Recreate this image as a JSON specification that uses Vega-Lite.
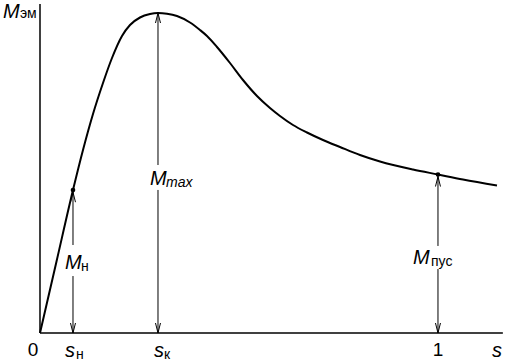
{
  "$schema": "https://vega.github.io/schema/vega-lite/v6.json",
  "width": 506,
  "height": 363,
  "padding": 0,
  "autosize": {"type": "none"},
  "background": "white",
  "config": {"view": {"stroke": null}},
  "datasets": {
    "curve": [
      {"s": 0, "M": 0},
      {"s": 0.04146, "M": 0.22344},
      {"s": 0.08291, "M": 0.44688},
      {"s": 0.10804, "M": 0.57188},
      {"s": 0.13317, "M": 0.68438},
      {"s": 0.15829, "M": 0.78125},
      {"s": 0.1809, "M": 0.85938},
      {"s": 0.20603, "M": 0.92813},
      {"s": 0.22613, "M": 0.9625},
      {"s": 0.25126, "M": 0.98594},
      {"s": 0.27638, "M": 0.99688},
      {"s": 0.29648, "M": 1.0},
      {"s": 0.3191, "M": 0.99781},
      {"s": 0.34422, "M": 0.99063},
      {"s": 0.37688, "M": 0.97031},
      {"s": 0.40201, "M": 0.94688},
      {"s": 0.4196, "M": 0.92813},
      {"s": 0.44472, "M": 0.89375},
      {"s": 0.47739, "M": 0.84375},
      {"s": 0.51005, "M": 0.79063},
      {"s": 0.54523, "M": 0.74063},
      {"s": 0.57789, "M": 0.70313},
      {"s": 0.60302, "M": 0.67813},
      {"s": 0.63568, "M": 0.65},
      {"s": 0.67085, "M": 0.62656},
      {"s": 0.71106, "M": 0.60313},
      {"s": 0.75377, "M": 0.58125},
      {"s": 0.80402, "M": 0.55625},
      {"s": 0.85427, "M": 0.53594},
      {"s": 0.93719, "M": 0.51094},
      {"s": 1.0, "M": 0.49531},
      {"s": 1.06281, "M": 0.47969},
      {"s": 1.14824, "M": 0.46094}
    ],
    "segments": [
      {"s": 0.08291, "M1": 0.44688, "M2": 0.275},
      {"s": 0.08291, "M1": 0.178, "M2": 0},
      {"s": 0.29648, "M1": 1.0, "M2": 0.525},
      {"s": 0.29648, "M1": 0.447, "M2": 0},
      {"s": 1.0, "M1": 0.49531, "M2": 0.272},
      {"s": 1.0, "M1": 0.2, "M2": 0}
    ],
    "tipsUp": [
      {"s": 0.08291, "M": 0.44},
      {"s": 0.29648, "M": 1.0},
      {"s": 1.0, "M": 0.489}
    ],
    "tipsDown": [
      {"s": 0.08291, "M": 0},
      {"s": 0.29648, "M": 0},
      {"s": 1.0, "M": 0}
    ],
    "dots": [
      {"s": 0.08291, "M": 0.44688},
      {"s": 1.0, "M": 0.49531}
    ],
    "axesV": [{"s": 0, "M1": 0, "M2": 1.028}],
    "axesH": [{"s1": 0, "s2": 1.163, "M": 0}],
    "mainLabels": [
      {"s": -0.093, "M": 0.9844, "text": "M"},
      {"s": 0.2764, "M": 0.4625, "text": "M"},
      {"s": 0.0628, "M": 0.2, "text": "M"},
      {"s": 0.9372, "M": 0.2156, "text": "M"},
      {"s": 0.0628, "M": -0.075, "text": "s"},
      {"s": 0.2864, "M": -0.075, "text": "s"},
      {"s": 1.1357, "M": -0.075, "text": "s"}
    ],
    "subLabels": [
      {"s": -0.0503, "M": 0.9844, "text": "эм"},
      {"s": 0.103, "M": 0.1938, "text": "н"},
      {"s": 0.9824, "M": 0.2094, "text": "пус"},
      {"s": 0.0905, "M": -0.08125, "text": "н"},
      {"s": 0.3116, "M": -0.08125, "text": "к"}
    ],
    "italicSub": [
      {"s": 0.3166, "M": 0.4563, "text": "max"}
    ],
    "numbers": [
      {"s": -0.0176, "M": -0.0719, "text": "0"},
      {"s": 1.0, "M": -0.0719, "text": "1"}
    ]
  },
  "encoding": {},
  "layer": [
    {
      "data": {"name": "axesV"},
      "mark": {"type": "rule", "color": "black", "strokeWidth": 1.5},
      "encoding": {
        "x": {"field": "s", "type": "quantitative", "scale": {"domain": [-0.1005, 1.1709], "nice": false, "zero": false}, "axis": null},
        "y": {"field": "M1", "type": "quantitative", "scale": {"domain": [-0.09375, 1.040625], "nice": false, "zero": false}, "axis": null},
        "y2": {"field": "M2"}
      }
    },
    {
      "data": {"name": "axesH"},
      "mark": {"type": "rule", "color": "black", "strokeWidth": 1.5},
      "encoding": {
        "x": {"field": "s1", "type": "quantitative"},
        "x2": {"field": "s2"},
        "y": {"field": "M", "type": "quantitative"}
      }
    },
    {
      "data": {"name": "segments"},
      "mark": {"type": "rule", "color": "black", "strokeWidth": 1},
      "encoding": {
        "x": {"field": "s", "type": "quantitative"},
        "y": {"field": "M1", "type": "quantitative"},
        "y2": {"field": "M2"}
      }
    },
    {
      "data": {"name": "curve"},
      "mark": {"type": "line", "color": "black", "strokeWidth": 2, "interpolate": "monotone"},
      "encoding": {
        "x": {"field": "s", "type": "quantitative"},
        "y": {"field": "M", "type": "quantitative"}
      }
    },
    {
      "data": {"name": "tipsUp"},
      "mark": {"type": "point", "shape": "M -0.25 1 L 0 0 L 0.25 1", "size": 400, "filled": false, "stroke": "black", "strokeWidth": 1, "opacity": 1},
      "encoding": {
        "x": {"field": "s", "type": "quantitative"},
        "y": {"field": "M", "type": "quantitative"}
      }
    },
    {
      "data": {"name": "tipsDown"},
      "mark": {"type": "point", "shape": "M -0.25 -1 L 0 0 L 0.25 -1", "size": 400, "filled": false, "stroke": "black", "strokeWidth": 1, "opacity": 1},
      "encoding": {
        "x": {"field": "s", "type": "quantitative"},
        "y": {"field": "M", "type": "quantitative"}
      }
    },
    {
      "data": {"name": "dots"},
      "mark": {"type": "point", "shape": "circle", "size": 22, "filled": true, "color": "black", "opacity": 1},
      "encoding": {
        "x": {"field": "s", "type": "quantitative"},
        "y": {"field": "M", "type": "quantitative"}
      }
    },
    {
      "data": {"name": "mainLabels"},
      "mark": {"type": "text", "font": "Liberation Sans", "fontStyle": "italic", "fontSize": 20, "align": "left", "baseline": "alphabetic", "color": "black"},
      "encoding": {
        "x": {"field": "s", "type": "quantitative"},
        "y": {"field": "M", "type": "quantitative"},
        "text": {"field": "text"}
      }
    },
    {
      "data": {"name": "subLabels"},
      "mark": {"type": "text", "font": "Liberation Sans", "fontSize": 14, "align": "left", "baseline": "alphabetic", "color": "black"},
      "encoding": {
        "x": {"field": "s", "type": "quantitative"},
        "y": {"field": "M", "type": "quantitative"},
        "text": {"field": "text"}
      }
    },
    {
      "data": {"name": "italicSub"},
      "mark": {"type": "text", "font": "Liberation Sans", "fontStyle": "italic", "fontSize": 14, "align": "left", "baseline": "alphabetic", "color": "black"},
      "encoding": {
        "x": {"field": "s", "type": "quantitative"},
        "y": {"field": "M", "type": "quantitative"},
        "text": {"field": "text"}
      }
    },
    {
      "data": {"name": "numbers"},
      "mark": {"type": "text", "font": "Liberation Sans", "fontSize": 19, "align": "center", "baseline": "alphabetic", "color": "black"},
      "encoding": {
        "x": {"field": "s", "type": "quantitative"},
        "y": {"field": "M", "type": "quantitative"},
        "text": {"field": "text"}
      }
    }
  ]
}
